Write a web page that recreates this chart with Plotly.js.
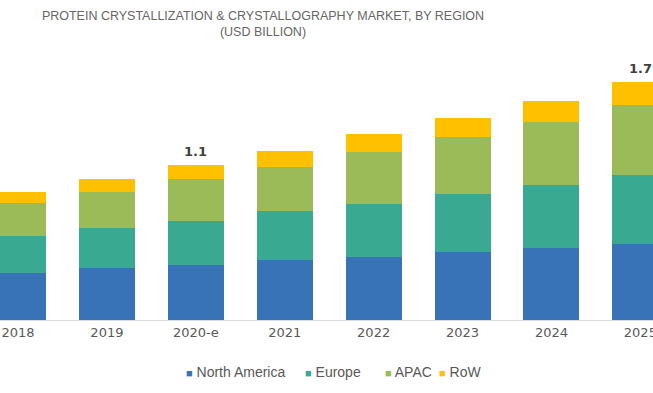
<!DOCTYPE html>
<html>
<head>
<meta charset="utf-8">
<script src="https://cdn.plot.ly/plotly-3.0.1.min.js"></script>
<style>
  html, body { margin: 0; padding: 0; background: #ffffff; }
  #chart { width: 653px; height: 393px; }
</style>
</head>
<body>
<div id="chart"></div>
<script>
// ---- data (USD billion) ----
var years = ['2018', '2019', '2020-e', '2021', '2022', '2023', '2024', '2025'];
var northAmerica = [0.336, 0.369, 0.390, 0.429, 0.452, 0.484, 0.517, 0.545];
var europe       = [0.267, 0.290, 0.319, 0.348, 0.379, 0.414, 0.448, 0.491];
var apac         = [0.231, 0.255, 0.296, 0.319, 0.367, 0.410, 0.448, 0.500];
var row          = [0.081, 0.093, 0.102, 0.114, 0.129, 0.133, 0.150, 0.166];
var seriesNames  = ['North America', 'Europe', 'APAC', 'RoW'];
var seriesColors = ['#3873b8', '#39a991', '#9bbb59', '#ffc000'];
var labelYears   = ['2020-e', '2025'];
var labelTexts   = ['1.1', '1.7'];
var legendLeftPx = [184, 303, 383, 437];

var seriesValues = [northAmerica, europe, apac, row];
var W = 653;

var traces = seriesValues.map(function (vals, i) {
  return {
    type: 'bar',
    x: years,
    y: vals,
    name: seriesNames[i],
    marker: { color: seriesColors[i], line: { width: 0 } },
    hoverinfo: 'x+y+name',
    showlegend: false
  };
});

var totals = years.map(function (y, j) {
  return seriesValues.reduce(function (s, arr) { return s + arr[j]; }, 0);
});

var annotations = [];
labelYears.forEach(function (yr, k) {
  var j = years.indexOf(yr);
  annotations.push({
    x: j, y: totals[j], xref: 'x', yref: 'y',
    text: labelTexts[k], showarrow: false,
    yanchor: 'bottom', xanchor: 'center', yshift: 4,
    font: { family: 'DejaVu Sans', size: 13, color: '#404040', weight: 'bold' }
  });
});
seriesNames.forEach(function (nm, i) {
  annotations.push({
    x: legendLeftPx[i] / W, y: -0.186, xref: 'paper', yref: 'paper',
    xanchor: 'left', yanchor: 'middle', showarrow: false,
    text: '<span style="color:' + seriesColors[i] + ';font-size:11px">■</span> ' + nm,
    font: { family: 'Liberation Sans, Arial, sans-serif', size: 14, color: '#595959' }
  });
});

var layout = {
  width: 653, height: 393,
  paper_bgcolor: '#ffffff', plot_bgcolor: '#ffffff',
  margin: { l: 0, r: 0, t: 40, b: 73, pad: 0 },
  barmode: 'stack',
  bargap: 0.37,
  showlegend: false,
  title: {
    text: 'PROTEIN CRYSTALLIZATION & CRYSTALLOGRAPHY MARKET, BY REGION<br>(USD BILLION)',
    x: 263 / W, xanchor: 'center', xref: 'container',
    y: 1 - 20 / 393, yanchor: 'top', yref: 'container',
    font: { family: 'Liberation Sans Narrow, Liberation Sans, Arial, sans-serif', size: 12.5, color: '#666666' }
  },
  xaxis: {
    type: 'category',
    range: [-0.2025, 7.142],
    showline: true, linecolor: '#d9d9d9', linewidth: 1,
    showgrid: false, zeroline: false, ticks: '',
    tickfont: { family: 'DejaVu Sans', size: 13, color: '#595959' },
    fixedrange: true
  },
  yaxis: {
    range: [0, 2.0],
    visible: false, showgrid: false, zeroline: false,
    fixedrange: true
  },
  annotations: annotations
};

Plotly.newPlot('chart', traces, layout, { displayModeBar: false, staticPlot: true });
</script>
</body>
</html>
